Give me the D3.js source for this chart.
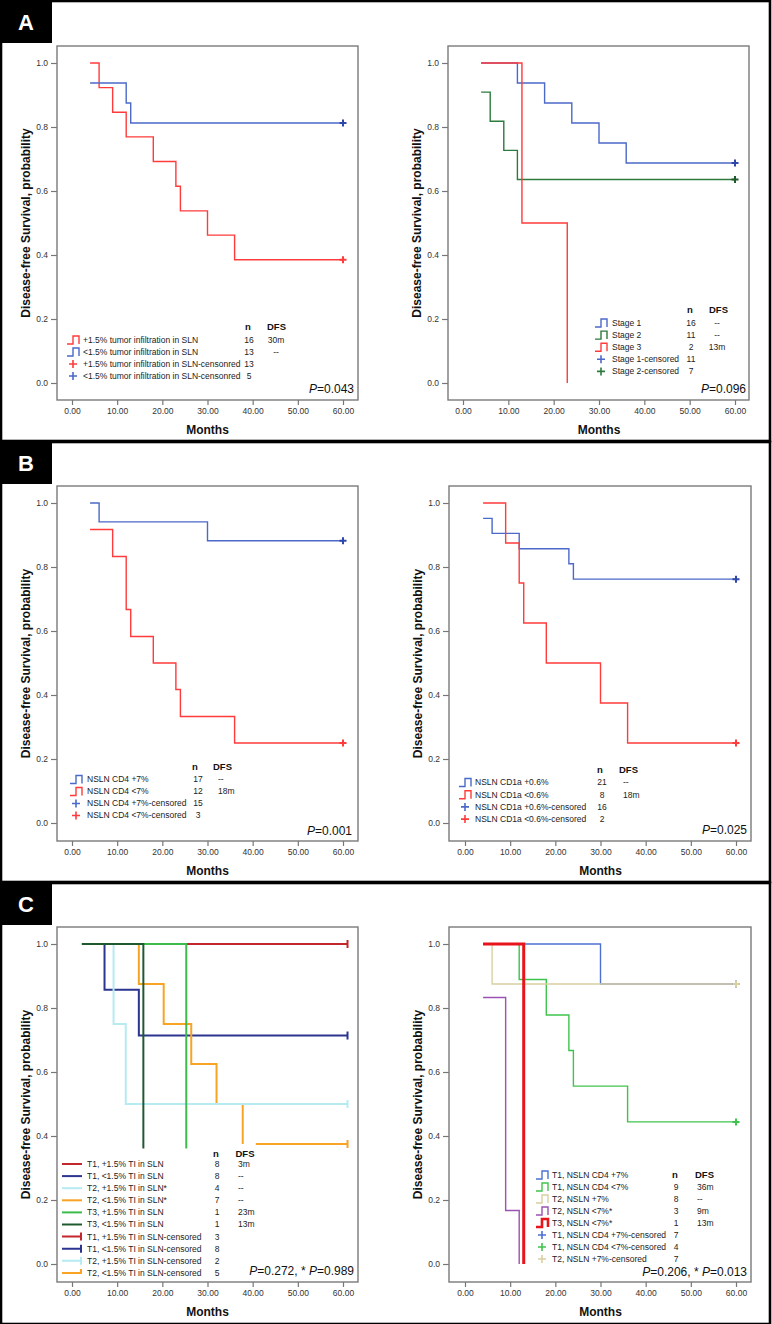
<!DOCTYPE html>
<html><head><meta charset="utf-8">
<script src="https://cdn.jsdelivr.net/npm/d3@7/dist/d3.min.js"></script>
<style>
body{margin:0;background:#fff}
svg{display:block}
text{font-family:"Liberation Sans",Arial,Helvetica,sans-serif}
</style>
</head><body>
<svg id="c" width="772" height="1324"></svg>
<script>
// ---------------- DATA ----------------
const xTicks = [0, 10, 20, 30, 40, 50, 60];
const yTicks = [0, 0.2, 0.4, 0.6, 0.8, 1.0];
const xTitle = "Months";
const yTitle = "Disease-free Survival, probability";
const panelLetters = ["A", "B", "C"];

// Panel A left
const aL_red_t = [4, 6, 9, 12, 18, 23, 24, 30, 36, 60];
const aL_red_s = [1.0, 0.923, 0.846, 0.769, 0.692, 0.615, 0.538, 0.462, 0.385, 0.385];
const aL_blue_t = [4, 12, 13, 60];
const aL_blue_s = [0.9375, 0.875, 0.8125, 0.8125];
const aL_labels = ["+1.5% tumor infiltration in SLN", "<1.5% tumor infiltration in SLN",
  "+1.5% tumor infiltration in SLN-censonred", "<1.5% tumor infiltration in SLN-censonred"];
const aL_n = ["16", "13", "13", "5"];
const aL_dfs = ["30m", "--", "", ""];
const aL_p = ["0.043"];

// Panel A right
const aR_s1_t = [4, 12, 18, 24, 30, 36, 60];
const aR_s1_s = [1.0, 0.9375, 0.875, 0.8125, 0.75, 0.6875, 0.6875];
const aR_s2_t = [4, 6, 9, 12, 60];
const aR_s2_s = [0.909, 0.818, 0.727, 0.636, 0.636];
const aR_s3_t = [4, 13, 23];
const aR_s3_s = [1.0, 0.5, 0.0];
const aR_labels = ["Stage 1", "Stage 2", "Stage 3", "Stage 1-censored", "Stage 2-censored"];
const aR_n = ["16", "11", "2", "11", "7"];
const aR_dfs = ["--", "--", "13m", "", ""];
const aR_p = ["0.096"];

// Panel B left
const bL_blue_t = [4, 6, 30, 60];
const bL_blue_s = [1.0, 0.941, 0.882, 0.882];
const bL_red_t = [4, 9, 12, 13, 18, 23, 24, 36, 60];
const bL_red_s = [0.917, 0.833, 0.667, 0.583, 0.5, 0.417, 0.333, 0.25, 0.25];
const bL_labels = ["NSLN CD4 +7%", "NSLN CD4 <7%", "NSLN CD4 +7%-censored", "NSLN CD4 <7%-censored"];
const bL_n = ["17", "12", "15", "3"];
const bL_dfs = ["--", "18m", "", ""];
const bL_p = ["0.001"];

// Panel B right
const bR_blue_t = [4, 6, 12, 23, 24, 60];
const bR_blue_s = [0.952, 0.905, 0.857, 0.810, 0.762, 0.762];
const bR_red_t = [4, 9, 12, 13, 18, 30, 36, 60];
const bR_red_s = [1.0, 0.875, 0.75, 0.625, 0.5, 0.375, 0.25, 0.25];
const bR_labels = ["NSLN CD1a +0.6%", "NSLN CD1a <0.6%", "NSLN CD1a +0.6%-censored", "NSLN CD1a <0.6%-censored"];
const bR_n = ["21", "8", "16", "2"];
const bR_dfs = ["--", "18m", "", ""];
const bR_p = ["0.025"];

// Panel C left
const cL_t1p_t = [2.2, 61];
const cL_t1p_s = [1.0, 1.0];
const cL_t1m_t = [2.2, 7.2, 14.8, 61];
const cL_t1m_s = [1.0, 0.857, 0.714, 0.714];
const cL_t2p_t = [2.2, 9.2, 11.9, 61];
const cL_t2p_s = [1.0, 0.75, 0.5, 0.5];
const cL_t2m_t = [2.2, 14.8, 20.3, 26.4, 32, 37.8, 37.8, 40.7, 61];
const cL_t2m_s = [1.0, 0.875, 0.75, 0.625, 0.5, 0.375, null, 0.375, 0.375];
const cL_t3p_t = [2.2, 25.3];
const cL_t3p_s = [1.0, 0.0];
const cL_t3m_t = [2.2, 15.8];
const cL_t3m_s = [1.0, 0.0];
const cL_labels = ["T1, +1.5% TI in SLN", "T1, <1.5% TI in SLN", "T2, +1.5% TI in SLN*", "T2, <1.5% TI in SLN*",
  "T3, +1.5% TI in SLN", "T3, <1.5% TI in SLN", "T1, +1.5% TI in SLN-censored", "T1, <1.5% TI in SLN-censored",
  "T2, +1.5% TI in SLN-censored", "T2, <1.5% TI in SLN-censored"];
const cL_n = ["8", "8", "4", "7", "1", "1", "3", "8", "2", "5"];
const cL_dfs = ["3m", "--", "--", "--", "23m", "13m", "", "", "", ""];
const cL_p = ["0.272", "0.989"];

// Panel C right
const cR_t1p_t = [4, 30, 60];
const cR_t1p_s = [1.0, 0.875, 0.875];
const cR_t1m_t = [4, 12, 18, 23, 24, 36, 60];
const cR_t1m_s = [1.0, 0.889, 0.778, 0.667, 0.556, 0.444, 0.444];
const cR_t2p_t = [4, 6, 60];
const cR_t2p_s = [1.0, 0.875, 0.875];
const cR_t2m_t = [4, 9, 12];
const cR_t2m_s = [0.833, 0.167, 0.0];
const cR_t3m_t = [4, 13];
const cR_t3m_s = [1.0, 0.0];
const cR_labels = ["T1, NSLN CD4 +7%", "T1, NSLN CD4 <7%", "T2, NSLN +7%", "T2, NSLN <7%*", "T3, NSLN <7%*",
  "T1, NSLN CD4 +7%-censored", "T1, NSLN CD4 <7%-censored", "T2, NSLN +7%-censored"];
const cR_n = ["", "9", "8", "3", "1", "7", "4", "7"];
const cR_dfs = ["", "36m", "--", "9m", "13m", "", "", ""];
const cR_p = ["0.206", "0.013"];

// ---------------- STYLE ----------------
const BLUE = "#4b69c9", RED = "#ff3b3b", DGREEN = "#2c7a3c";
const C_RED = "#c1272d", C_NAVY = "#2b3590", C_CYAN = "#b5ebf1", C_ORANGE = "#f8a324", C_GREEN = "#3dbb4b", C_DGREEN = "#1f5a2f";
const R_BLUE = "#4d70d2", R_GREEN = "#3fc34c", R_TAN = "#d9d0a2", R_PURPLE = "#9b52b2", R_RED = "#e8141c";

const svg = d3.select("#c");

// panel frames
const panels = [{y0: 0, y1: 441}, {y0: 441, y1: 882}, {y0: 882, y1: 1324}];
panels.forEach((p, i) => {
  svg.append("rect").attr("x", 1).attr("y", p.y0 + 1).attr("width", 769).attr("height", p.y1 - p.y0 - 1)
    .attr("fill", "none").attr("stroke", "#000").attr("stroke-width", 2.6);
  svg.append("rect").attr("x", 0).attr("y", p.y0).attr("width", 52).attr("height", 43).attr("fill", "#000");
  svg.append("text").attr("x", 26).attr("y", p.y0 + 22).attr("dy", "0.36em").attr("text-anchor", "middle")
    .attr("fill", "#fff").attr("font-weight", "bold").attr("font-size", 22).text(panelLetters[i]);
});

function drawChart(cfg) {
  const g = svg.append("g");
  const x = d3.scaleLinear().domain([0, 60]).range([cfg.x0, cfg.x60]);
  const y = d3.scaleLinear().domain([0, 1]).range([cfg.yb, cfg.yt]);

  // axes
  const xa = g.append("g").attr("transform", `translate(0,${cfg.fy1})`)
    .call(d3.axisBottom(x).tickValues(xTicks).tickFormat(d3.format(".2f")).tickSize(5).tickPadding(3));
  const ya = g.append("g").attr("transform", `translate(${cfg.fx0},0)`)
    .call(d3.axisLeft(y).tickValues(yTicks).tickFormat(d3.format(".1f")).tickSize(6).tickPadding(3));
  [xa, ya].forEach(a => {
    a.select(".domain").remove();
    a.selectAll("line").attr("stroke", "#777").attr("stroke-width", 1.2);
    a.selectAll("text").attr("font-size", 8.5).attr("fill", "#333").attr("font-family", '"Liberation Sans",Arial,sans-serif');
  });

  g.append("text").attr("x", (cfg.x0 + cfg.x60) / 2).attr("y", cfg.fy1 + 34).attr("text-anchor", "middle")
    .attr("font-weight", "bold").attr("font-size", 12).attr("fill", "#111").text(xTitle);
  const cy = (cfg.fy0 + cfg.fy1) / 2;
  g.append("text").attr("transform", `translate(${cfg.fx0 - 31},${cy}) rotate(-90)`).attr("dy", "0.35em")
    .attr("text-anchor", "middle").attr("font-weight", "bold").attr("font-size", 12).attr("fill", "#111").text(yTitle);

  // series
  const line = d3.line().defined(d => d.s !== null).curve(d3.curveStepAfter).x(d => x(d.t)).y(d => y(d.s));
  cfg.series.forEach(se => {
    const pts = se.t.map((t, i) => ({t: t, s: se.s[i]}));
    g.append("path").attr("d", line(pts)).attr("fill", "none").attr("stroke", se.color)
      .attr("stroke-width", se.w || 1.4);
  });
  cfg.series.forEach(se => {
    if (!se.cens) return;
    const last = se.t.length - 1;
    const px = x(se.t[last]), py = y(se.s[last]);
    if (se.cens === "cross") {
      g.append("path").attr("d", `M${px - 3.5},${py}H${px + 3.5}M${px},${py - 3.5}V${py + 3.5}`)
        .attr("stroke", se.ccolor || se.color).attr("stroke-width", 2);
    } else {
      g.append("path").attr("d", `M${px},${py - 4}V${py + 4}`).attr("stroke", se.ccolor || se.color).attr("stroke-width", 2);
    }
  });

  // legend background boxes (opaque, as in the original)
  (cfg.masks || []).forEach(m => {
    g.append("rect").attr("x", m[0]).attr("y", m[1]).attr("width", m[2]).attr("height", m[3]).attr("fill", "#fff");
  });

  // frame
  g.append("rect").attr("x", cfg.fx0).attr("y", cfg.fy0).attr("width", cfg.fx1 - cfg.fx0).attr("height", cfg.fy1 - cfg.fy0)
    .attr("fill", "none").attr("stroke", "#7a7a7a").attr("stroke-width", 1.4);

  // legend
  const L = cfg.legend;
  g.append("text").attr("x", L.nHx).attr("y", L.hy).attr("dy", "0.35em").attr("text-anchor", "middle")
    .attr("font-weight", "bold").attr("font-size", 9.5).attr("fill", "#111").text("n");
  g.append("text").attr("x", L.dHx).attr("y", L.hy).attr("dy", "0.35em")
    .attr("font-weight", "bold").attr("font-size", 9.5).attr("fill", "#111").text("DFS");
  L.labels.forEach((lab, i) => {
    const ry = L.rows[i];
    const gl = L.glyphs[i];
    const gx = L.gx;
    if (gl.type === "step") {
      g.append("path").attr("d", `M${gx},${ry + 4}H${gx + 6}V${ry - 4}H${gx + 12}V${ry + 4}`)
        .attr("fill", "none").attr("stroke", gl.color).attr("stroke-width", gl.w || 1.4);
    } else if (gl.type === "cross") {
      g.append("path").attr("d", `M${gx + 2},${ry}H${gx + 10}M${gx + 6},${ry - 4}V${ry + 4}`)
        .attr("stroke", gl.color).attr("stroke-width", 1.6);
    } else if (gl.type === "line") {
      g.append("path").attr("d", `M${gx},${ry}H${gx + 20}`).attr("stroke", gl.color).attr("stroke-width", 2);
    } else if (gl.type === "lineTick") {
      g.append("path").attr("d", `M${gx},${ry}H${gx + 20}M${gx + 19},${ry - 4}V${ry + (gl.up ? 0 : 4)}`)
        .attr("fill", "none").attr("stroke", gl.color).attr("stroke-width", 2);
    }
    g.append("text").attr("x", L.tx).attr("y", ry).attr("dy", "0.35em").attr("font-size", 8.5).attr("fill", "#222").text(lab);
    if (L.n[i]) g.append("text").attr("x", L.nx).attr("y", ry).attr("dy", "0.35em").attr("text-anchor", "middle")
      .attr("font-size", 8.5).attr("fill", "#222").text(L.n[i]);
    if (L.dfs[i]) g.append("text").attr("x", L.dx).attr("y", ry).attr("dy", "0.35em").attr("text-anchor", L.danchor)
      .attr("font-size", 8.5).attr("fill", "#222").text(L.dfs[i]);
  });

  // P value
  const pt = g.append("text").attr("x", cfg.px).attr("y", cfg.py).attr("text-anchor", "end").attr("font-size", 12).attr("fill", "#111");
  pt.append("tspan").attr("font-style", "italic").text("P");
  if (cfg.p.length === 1) {
    pt.append("tspan").text("=" + cfg.p[0]);
  } else {
    pt.append("tspan").text("=" + cfg.p[0] + ", * ");
    pt.append("tspan").attr("font-style", "italic").text("P");
    pt.append("tspan").text("=" + cfg.p[1]);
  }
}

const rowsFrom = (start, step, k) => d3.range(k).map(i => start + i * step);

// ---- A left
drawChart({
  fx0: 57, fx1: 358, fy0: 46, fy1: 400, x0: 72, x60: 343, yt: 63, yb: 383,
  series: [
    {t: aL_red_t, s: aL_red_s, color: RED, cens: "cross"},
    {t: aL_blue_t, s: aL_blue_s, color: BLUE, cens: "cross", ccolor: "#2f47a8"}
  ],
  legend: {gx: 67, tx: 83, nx: 249, nHx: 248, dHx: 267, dx: 276, danchor: "middle", hy: 327,
    rows: rowsFrom(340, 12, 4), labels: aL_labels, n: aL_n, dfs: aL_dfs,
    glyphs: [{type: "step", color: RED}, {type: "step", color: BLUE}, {type: "cross", color: RED}, {type: "cross", color: BLUE}]},
  p: aL_p, px: 354, py: 393
});

// ---- A right
drawChart({
  fx0: 448, fx1: 749, fy0: 46, fy1: 400, x0: 463, x60: 735, yt: 63, yb: 383,
  series: [
    {t: aR_s1_t, s: aR_s1_s, color: BLUE, cens: "cross", ccolor: "#2f47a8"},
    {t: aR_s2_t, s: aR_s2_s, color: DGREEN, cens: "cross", ccolor: "#1f5a2c"},
    {t: aR_s3_t, s: aR_s3_s, color: RED}
  ],
  legend: {gx: 595, tx: 612, nx: 691, nHx: 690, dHx: 709, dx: 717, danchor: "middle", hy: 310,
    rows: rowsFrom(323, 12.1, 5), labels: aR_labels, n: aR_n, dfs: aR_dfs,
    glyphs: [{type: "step", color: BLUE}, {type: "step", color: DGREEN}, {type: "step", color: RED},
      {type: "cross", color: BLUE}, {type: "cross", color: DGREEN}]},
  p: aR_p, px: 746, py: 393
});

// ---- B left
drawChart({
  fx0: 57, fx1: 358, fy0: 486, fy1: 841, x0: 72, x60: 343, yt: 503, yb: 823,
  series: [
    {t: bL_blue_t, s: bL_blue_s, color: BLUE, cens: "cross", ccolor: "#2f47a8"},
    {t: bL_red_t, s: bL_red_s, color: RED, cens: "cross"}
  ],
  legend: {gx: 70, tx: 87, nx: 198, nHx: 195, dHx: 213, dx: 218, danchor: "start", hy: 767,
    rows: rowsFrom(779.5, 12, 4), labels: bL_labels, n: bL_n, dfs: bL_dfs,
    glyphs: [{type: "step", color: BLUE}, {type: "step", color: RED}, {type: "cross", color: BLUE}, {type: "cross", color: RED}]},
  p: bL_p, px: 352, py: 834.5
});

// ---- B right
drawChart({
  fx0: 449, fx1: 751, fy0: 486, fy1: 841, x0: 465, x60: 736, yt: 503, yb: 823,
  series: [
    {t: bR_blue_t, s: bR_blue_s, color: BLUE, cens: "cross", ccolor: "#2f47a8"},
    {t: bR_red_t, s: bR_red_s, color: RED, cens: "cross"}
  ],
  legend: {gx: 459, tx: 475, nx: 602, nHx: 600, dHx: 619, dx: 623, danchor: "start", hy: 769.5,
    rows: rowsFrom(782.5, 12.2, 4), labels: bR_labels, n: bR_n, dfs: bR_dfs,
    glyphs: [{type: "step", color: BLUE}, {type: "step", color: RED}, {type: "cross", color: BLUE}, {type: "cross", color: RED}]},
  p: bR_p, px: 747, py: 834
});

// ---- C left
drawChart({
  fx0: 57, fx1: 358, fy0: 927, fy1: 1282, x0: 72, x60: 343, yt: 944, yb: 1264,
  series: [
    {t: cL_t1p_t, s: cL_t1p_s, color: C_RED, w: 2, cens: "tick"},
    {t: cL_t1m_t, s: cL_t1m_s, color: C_NAVY, w: 2, cens: "tick"},
    {t: cL_t2m_t, s: cL_t2m_s, color: C_ORANGE, w: 2, cens: "tick"},
    {t: cL_t2p_t, s: cL_t2p_s, color: C_CYAN, w: 2, cens: "tick"},
    {t: cL_t3p_t, s: cL_t3p_s, color: C_GREEN, w: 2},
    {t: cL_t3m_t, s: cL_t3m_s, color: C_DGREEN, w: 2}
  ],
  masks: [[58, 1148.5, 199, 132]],
  legend: {gx: 62, tx: 87, nx: 217, nHx: 216, dHx: 235.5, dx: 238, danchor: "start", hy: 1153.5,
    rows: rowsFrom(1164, 12.1, 10), labels: cL_labels, n: cL_n, dfs: cL_dfs,
    glyphs: [{type: "line", color: C_RED}, {type: "line", color: C_NAVY}, {type: "line", color: C_CYAN},
      {type: "line", color: C_ORANGE}, {type: "line", color: C_GREEN}, {type: "line", color: C_DGREEN},
      {type: "lineTick", color: C_RED}, {type: "lineTick", color: C_NAVY}, {type: "lineTick", color: C_CYAN},
      {type: "lineTick", color: C_ORANGE, up: true}]},
  p: cL_p, px: 354, py: 1274.5
});

// ---- C right
drawChart({
  fx0: 449, fx1: 751, fy0: 927, fy1: 1282, x0: 465, x60: 736, yt: 944, yb: 1264,
  series: [
    {t: cR_t1p_t, s: cR_t1p_s, color: R_BLUE, cens: "cross"},
    {t: cR_t1m_t, s: cR_t1m_s, color: R_GREEN, cens: "cross"},
    {t: cR_t2p_t, s: cR_t2p_s, color: R_TAN, cens: "cross"},
    {t: cR_t2m_t, s: cR_t2m_s, color: R_PURPLE},
    {t: cR_t3m_t, s: cR_t3m_s, color: R_RED, w: 3}
  ],
  legend: {gx: 536, tx: 552, nx: 676, nHx: 675, dHx: 695, dx: 697, danchor: "start", hy: 1175,
    rows: rowsFrom(1175, 12, 8), labels: cR_labels, n: cR_n, dfs: cR_dfs,
    glyphs: [{type: "step", color: R_BLUE}, {type: "step", color: R_GREEN}, {type: "step", color: R_TAN},
      {type: "step", color: R_PURPLE}, {type: "step", color: R_RED, w: 2.6},
      {type: "cross", color: R_BLUE}, {type: "cross", color: R_GREEN}, {type: "cross", color: R_TAN}]},
  p: cR_p, px: 747, py: 1276
});
</script>
</body></html>
